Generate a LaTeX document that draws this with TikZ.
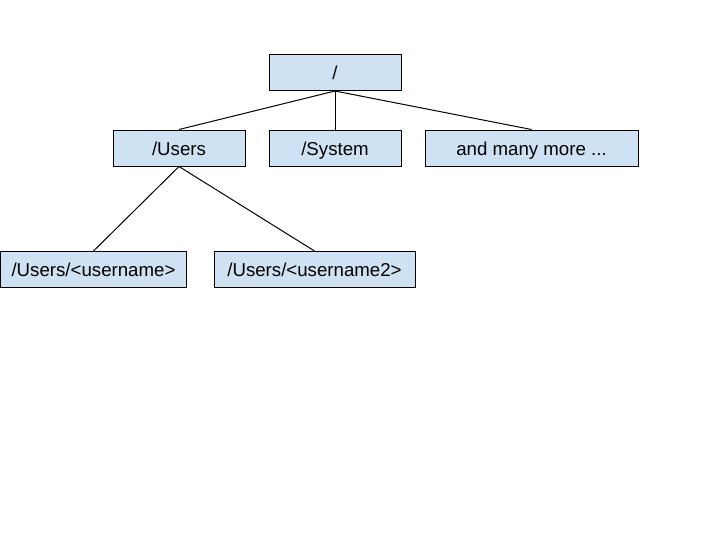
\documentclass[tikz,border=0pt]{standalone}
\usepackage{fontspec}
\setmainfont{Liberation Sans}
\definecolor{boxblue}{HTML}{CFE2F3}
\begin{document}
\begin{tikzpicture}[x=0.75pt, y=-0.75pt, font=\fontsize{14}{17}\selectfont,
    bx/.style={rectangle, draw=black, line width=0.75pt, fill=boxblue, inner sep=0pt,
      text height=11pt, text depth=0.5pt, minimum height=27pt},
    edge/.style={draw=black, line width=0.75pt}]
  \useasboundingbox (0,0) rectangle (720,540);
  \node[bx, minimum width=99pt] (root) at (335,72.5) {/};
  \node[bx, minimum width=99pt] (users) at (179,148) {/Users};
  \node[bx, minimum width=99pt] (system) at (335,148) {/System};
  \node[bx, minimum width=159.75pt] (more) at (531.5,148) {and many more ...};
  \node[bx, minimum width=139.5pt] (user1) at (93.5,269.5) {/Users/<username>};
  \node[bx, minimum width=150.75pt] (user2) at (314.5,269.5) {/Users/<username2>};
  \draw[edge] (root.south) -- (users.north);
  \draw[edge] (root.south) -- (system.north);
  \draw[edge] (root.south) -- (more.north);
  \draw[edge] (users.south) -- (user1.north);
  \draw[edge] (users.south) -- (user2.north);
\end{tikzpicture}
\end{document}
